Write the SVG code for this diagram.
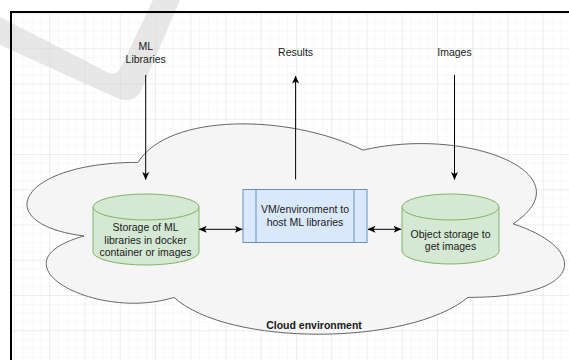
<svg xmlns="http://www.w3.org/2000/svg" width="569" height="360" viewBox="0 0 569 360">
<style>
text{font-family:"Liberation Sans",Arial,Helvetica,sans-serif;font-size:10.5px;fill:#1a1a1a;text-anchor:middle}
.b{font-weight:bold}
.cyl{fill:#d5e8d4;stroke:#82b366;stroke-width:1}
.proc{fill:#dae8fc;stroke:#6c8ebf;stroke-width:1}
.edge{fill:none;stroke:#000;stroke-width:1}
</style>
<defs>
<pattern id="minor" x="14" y="13" width="8.8125" height="8.8125" patternUnits="userSpaceOnUse">
<path d="M0,0 H8.8125 M0,0 V8.8125" fill="none" stroke="#f2f2f2" stroke-width="1"/>
</pattern>
<pattern id="major" x="14" y="13" width="35.25" height="35.25" patternUnits="userSpaceOnUse">
<path d="M0,0 H35.25 M0,0 V35.25" fill="none" stroke="#e3e3e3" stroke-width="1"/>
</pattern>
<marker id="ah" markerWidth="8" markerHeight="8" viewBox="0 0 8 8" refX="7.5" refY="4" orient="auto-start-reverse" markerUnits="userSpaceOnUse">
<path d="M0,0.5 L8,4 L0,7.5 L2,4 Z" fill="#000"/>
</marker>
</defs>
<rect width="569" height="360" fill="#fff"/>
<rect x="11" y="12" width="600" height="400" fill="url(#minor)"/>
<rect x="11" y="12" width="600" height="400" fill="url(#major)"/>
<path d="M0,17 L107,72 Q116,77 121,67 L153,0 L180,0 L141,91 Q133,105 117,98 L0,45 Z" fill="#d0d0d0" opacity="0.5"/>
<rect x="11" y="12" width="600" height="400" fill="none" stroke="#000" stroke-width="2"/>
<g id="cloud">
<path d="M138,162.4 C18,162.4 -12,223.8 84,236 C-12,263 96,321.9 174,297.4 C228,346.5 408,346.5 468,297.4 C588,297.4 588,248.3 513,223.8 C588,174.6 468,125.6 363,150.1 C288,113.3 168,113.3 138,162.4 Z" fill="#f5f5f5" stroke="#666" stroke-width="1"/>
<text class="b" x="314" y="329.4">Cloud environment</text>
</g>
<g id="ml-libraries-label">
<text x="145.7" y="50.4">ML</text>
<text x="145.7" y="62.7">Libraries</text>
</g>
<g id="results-label"><text x="295.6" y="56.4">Results</text></g>
<g id="images-label"><text x="454.5" y="56.4">Images</text></g>
<g id="storage-ml">
<path class="cyl" d="M93,207 A53,13 0 0 1 199,207 L199,252 A53,13 0 0 1 93,252 Z"/>
<path class="cyl" fill="none" d="M93,207 A53,13 0 0 0 199,207"/>
<text x="145.5" y="231.4">Storage of ML</text>
<text x="145.5" y="243.7">libraries in docker</text>
<text x="145.5" y="256">container or images</text>
</g>
<g id="vm">
<rect class="proc" x="243" y="189.5" width="124" height="53"/>
<path class="proc" d="M256,189.5 V242.5 M354,189.5 V242.5"/>
<text x="305" y="213">VM/environment to</text>
<text x="305" y="226">host ML libraries</text>
</g>
<g id="object-storage">
<path class="cyl" d="M402,207 A48.5,13 0 0 1 499,207 L499,251 A48.5,13 0 0 1 402,251 Z"/>
<path class="cyl" fill="none" d="M402,207 A48.5,13 0 0 0 499,207"/>
<text x="450.5" y="238">Object storage to</text>
<text x="450.5" y="250.4">get images</text>
</g>
<g id="connectors">
<path class="edge" d="M145.7,75 V179.5" marker-end="url(#ah)"/>
<path class="edge" d="M295.6,179.5 V76" marker-end="url(#ah)"/>
<path class="edge" d="M454.5,75 V179.5" marker-end="url(#ah)"/>
<path class="edge" d="M199.3,229.3 H242.3" marker-start="url(#ah)" marker-end="url(#ah)"/>
<path class="edge" d="M368,229.3 H401" marker-start="url(#ah)" marker-end="url(#ah)"/>
</g>
</svg>
